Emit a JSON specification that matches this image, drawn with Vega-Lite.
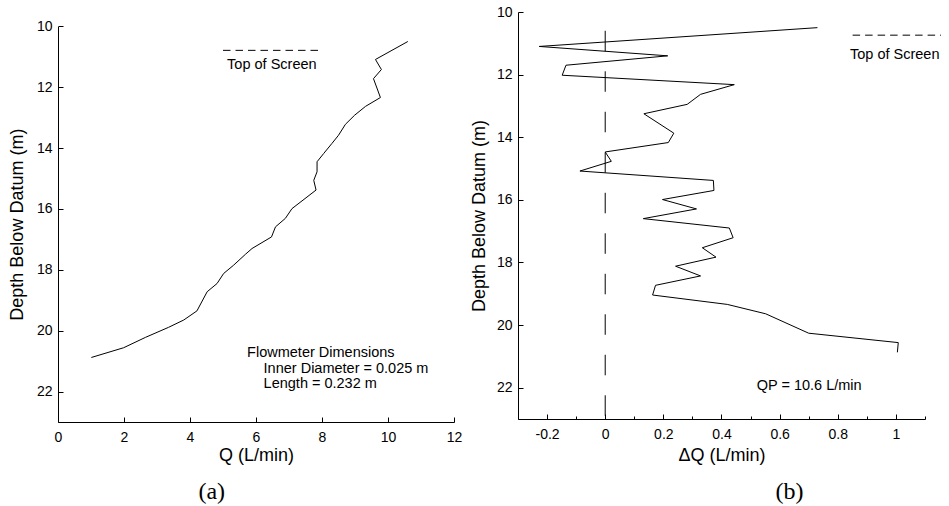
{
  "$schema": "https://vega.github.io/schema/vega-lite/v6.json",
  "background": "white",
  "padding": {"left": 8, "top": 5, "right": 0, "bottom": 0},
  "spacing": 8,
  "config": {
    "font": "Liberation Sans",
    "view": {"stroke": null},
    "axis": {
      "grid": false,
      "domainColor": "black",
      "domainWidth": 1,
      "tickColor": "black",
      "tickWidth": 1,
      "labelColor": "black",
      "labelFont": "Liberation Sans",
      "labelFontSize": 14,
      "titleFont": "Liberation Sans",
      "titleFontSize": 18,
      "titleFontWeight": "normal",
      "titleColor": "black",
      "labelFlush": false,
      "labelOverlap": false
    }
  },
  "datasets": {
    "flowA": [
      {"Q": 10.6, "depth": 10.5}, {"Q": 9.62, "depth": 11.09}, {"Q": 9.8, "depth": 11.42},
      {"Q": 9.56, "depth": 11.72}, {"Q": 9.77, "depth": 12.34}, {"Q": 9.32, "depth": 12.63},
      {"Q": 8.99, "depth": 12.92}, {"Q": 8.71, "depth": 13.22}, {"Q": 8.5, "depth": 13.58},
      {"Q": 8.3, "depth": 13.85}, {"Q": 8.05, "depth": 14.18}, {"Q": 7.85, "depth": 14.45},
      {"Q": 7.85, "depth": 14.78}, {"Q": 7.75, "depth": 15.06}, {"Q": 7.82, "depth": 15.38},
      {"Q": 7.09, "depth": 15.99}, {"Q": 6.89, "depth": 16.31}, {"Q": 6.59, "depth": 16.59},
      {"Q": 6.47, "depth": 16.92}, {"Q": 5.88, "depth": 17.3}, {"Q": 5.68, "depth": 17.49},
      {"Q": 5.32, "depth": 17.85}, {"Q": 5.02, "depth": 18.12}, {"Q": 4.82, "depth": 18.45},
      {"Q": 4.52, "depth": 18.72}, {"Q": 4.21, "depth": 19.35}, {"Q": 3.81, "depth": 19.65},
      {"Q": 3.35, "depth": 19.89}, {"Q": 2.65, "depth": 20.22}, {"Q": 1.99, "depth": 20.56},
      {"Q": 1.01, "depth": 20.88}
    ],
    "flowB": [
      {"dQ": 0.73, "depth": 10.5}, {"dQ": -0.227, "depth": 11.1}, {"dQ": 0.215, "depth": 11.4},
      {"dQ": -0.135, "depth": 11.7}, {"dQ": -0.148, "depth": 12.02}, {"dQ": 0.444, "depth": 12.32},
      {"dQ": 0.328, "depth": 12.63}, {"dQ": 0.282, "depth": 12.95}, {"dQ": 0.133, "depth": 13.25},
      {"dQ": 0.236, "depth": 13.87}, {"dQ": 0.217, "depth": 14.17}, {"dQ": 0.0, "depth": 14.47},
      {"dQ": 0.021, "depth": 14.77}, {"dQ": -0.087, "depth": 15.08}, {"dQ": 0.372, "depth": 15.38},
      {"dQ": 0.374, "depth": 15.7}, {"dQ": 0.197, "depth": 15.99}, {"dQ": 0.314, "depth": 16.29},
      {"dQ": 0.131, "depth": 16.6}, {"dQ": 0.427, "depth": 16.9}, {"dQ": 0.44, "depth": 17.21},
      {"dQ": 0.334, "depth": 17.53}, {"dQ": 0.381, "depth": 17.83}, {"dQ": 0.242, "depth": 18.12},
      {"dQ": 0.328, "depth": 18.43}, {"dQ": 0.173, "depth": 18.73}, {"dQ": 0.163, "depth": 19.04},
      {"dQ": 0.42, "depth": 19.34}, {"dQ": 0.552, "depth": 19.64}, {"dQ": 0.7, "depth": 20.26},
      {"dQ": 1.008, "depth": 20.56}, {"dQ": 1.005, "depth": 20.87}
    ]
  },
  "hconcat": [
    {
      "width": 396,
      "height": 410,
      "layer": [
        {
          "data": {"name": "flowA"},
          "mark": {"type": "line", "color": "black", "strokeWidth": 1},
          "encoding": {
            "x": {
              "field": "Q", "type": "quantitative",
              "scale": {"domain": [0, 12], "nice": false, "zero": false},
              "axis": {
                "title": "Q (L/min)",
                "values": [0, 1, 2, 3, 4, 5, 6, 7, 8, 9, 10, 11, 12],
                "labelExpr": "datum.value % 2 == 0 ? datum.label : ''",
                "tickSize": {"condition": {"test": "datum.value % 2 == 0", "value": -5}, "value": -3},
                "labelPadding": 13,
                "titlePadding": 2
              }
            },
            "y": {
              "field": "depth", "type": "quantitative",
              "scale": {"domain": [10, 23], "range": [14.3, 410], "nice": false, "zero": false},
              "axis": {
                "title": "Depth Below Datum (m)",
                "values": [10, 11, 12, 13, 14, 15, 16, 17, 18, 19, 20, 21, 22, 23],
                "labelExpr": "datum.value % 2 == 0 ? datum.label : ''",
                "tickSize": {"condition": {"test": "datum.value % 2 == 0", "value": -5}, "value": -3},
                "labelPadding": 11,
                "titlePadding": 10
              }
            },
            "order": {"field": "depth", "type": "quantitative"}
          }
        },
        {
          "data": {"values": [{"Q1": 5.0, "Q2": 8.0, "depth": 10.79}]},
          "mark": {"type": "rule", "color": "black", "strokeWidth": 1, "strokeDash": [7.5, 5]},
          "encoding": {
            "x": {"field": "Q1", "type": "quantitative"},
            "x2": {"field": "Q2"},
            "y": {"field": "depth", "type": "quantitative"}
          }
        },
        {
          "data": {"values": [{"Q": 6.48, "depth": 11.28, "label": "Top of Screen"}]},
          "mark": {"type": "text", "align": "center", "baseline": "middle", "fontSize": 14.5, "font": "Liberation Sans", "color": "black"},
          "encoding": {
            "x": {"field": "Q", "type": "quantitative"},
            "y": {"field": "depth", "type": "quantitative"},
            "text": {"field": "label"}
          }
        },
        {
          "data": {"values": [
            {"Q": 5.73, "depth": 20.74, "label": "Flowmeter Dimensions"},
            {"Q": 6.23, "depth": 21.26, "label": "Inner Diameter = 0.025 m"},
            {"Q": 6.23, "depth": 21.76, "label": "Length = 0.232 m"}
          ]},
          "mark": {"type": "text", "align": "left", "baseline": "middle", "fontSize": 14.5, "font": "Liberation Sans", "color": "black"},
          "encoding": {
            "x": {"field": "Q", "type": "quantitative"},
            "y": {"field": "depth", "type": "quantitative"},
            "text": {"field": "label"}
          }
        },
        {
          "data": {"values": [{"Q": 4.66, "depth": 25.29, "label": "(a)"}]},
          "mark": {"type": "text", "align": "center", "baseline": "middle", "fontSize": 24, "font": "Liberation Serif", "color": "black"},
          "encoding": {
            "x": {"field": "Q", "type": "quantitative"},
            "y": {"field": "depth", "type": "quantitative"},
            "text": {"field": "label"}
          }
        }
      ]
    },
    {
      "width": 407,
      "height": 407,
      "resolve": {"axis": {"x": "independent"}},
      "layer": [
        {
          "data": {"name": "flowB"},
          "mark": {"type": "line", "color": "black", "strokeWidth": 1},
          "encoding": {
            "x": {
              "field": "dQ", "type": "quantitative",
              "scale": {"domain": [-0.3, 1.1], "nice": false, "zero": false},
              "axis": {
                "orient": "bottom",
                "title": "ΔQ (L/min)",
                "values": [-0.2, 0, 0.2, 0.4, 0.6, 0.8, 1],
                "format": "~g",
                "labelExpr": "datum.value < 0 ? '-0.2' : datum.label",
                "tickSize": -5,
                "labelPadding": 13,
                "titlePadding": 5
              }
            },
            "y": {
              "field": "depth", "type": "quantitative",
              "scale": {"domain": [10, 23], "reverse": true, "nice": false, "zero": false},
              "axis": {
                "title": "Depth Below Datum (m)",
                "values": [10, 11, 12, 13, 14, 15, 16, 17, 18, 19, 20, 21, 22, 23],
                "labelExpr": "datum.value % 2 == 0 ? datum.label : ''",
                "tickSize": {"condition": {"test": "datum.value % 2 == 0", "value": -5}, "value": -3},
                "labelPadding": 11,
                "titlePadding": 8
              }
            },
            "order": {"field": "depth", "type": "quantitative"}
          }
        },
        {
          "data": {"values": [{"dQ": 0, "d1": 10.6, "d2": 23}]},
          "mark": {"type": "rule", "color": "black", "strokeWidth": 1, "strokeDash": [20.5, 20]},
          "encoding": {
            "x": {"field": "dQ", "type": "quantitative", "axis": null},
            "y": {"field": "d1", "type": "quantitative"},
            "y2": {"field": "d2"}
          }
        },
        {
          "data": {"values": [{"v1": 0.851, "v2": 1.155, "depth": 10.74}]},
          "mark": {"type": "rule", "color": "black", "strokeWidth": 1, "strokeDash": [7.5, 5]},
          "encoding": {
            "x": {"field": "v1", "type": "quantitative", "axis": null},
            "x2": {"field": "v2"},
            "y": {"field": "depth", "type": "quantitative"}
          }
        },
        {
          "data": {"values": [
            {"dQ": 0.842, "depth": 11.37, "label": "Top of Screen"},
            {"dQ": 0.521, "depth": 21.93, "label": "QP = 10.6 L/min"}
          ]},
          "mark": {"type": "text", "align": "left", "baseline": "middle", "fontSize": 14.5, "font": "Liberation Sans", "color": "black"},
          "encoding": {
            "x": {
              "field": "dQ", "type": "quantitative",
              "axis": {
                "orient": "bottom",
                "title": null,
                "labels": false,
                "domain": false,
                "values": [-0.3, -0.1, 0.1, 0.3, 0.5, 0.7, 0.9, 1.1],
                "tickSize": -3
              }
            },
            "y": {"field": "depth", "type": "quantitative"},
            "text": {"field": "label"}
          }
        },
        {
          "data": {"values": [{"dQ": 0.634, "depth": 25.34, "label": "(b)"}]},
          "mark": {"type": "text", "align": "center", "baseline": "middle", "fontSize": 24, "font": "Liberation Serif", "color": "black"},
          "encoding": {
            "x": {"field": "dQ", "type": "quantitative", "axis": null},
            "y": {"field": "depth", "type": "quantitative"},
            "text": {"field": "label"}
          }
        }
      ]
    }
  ]
}
